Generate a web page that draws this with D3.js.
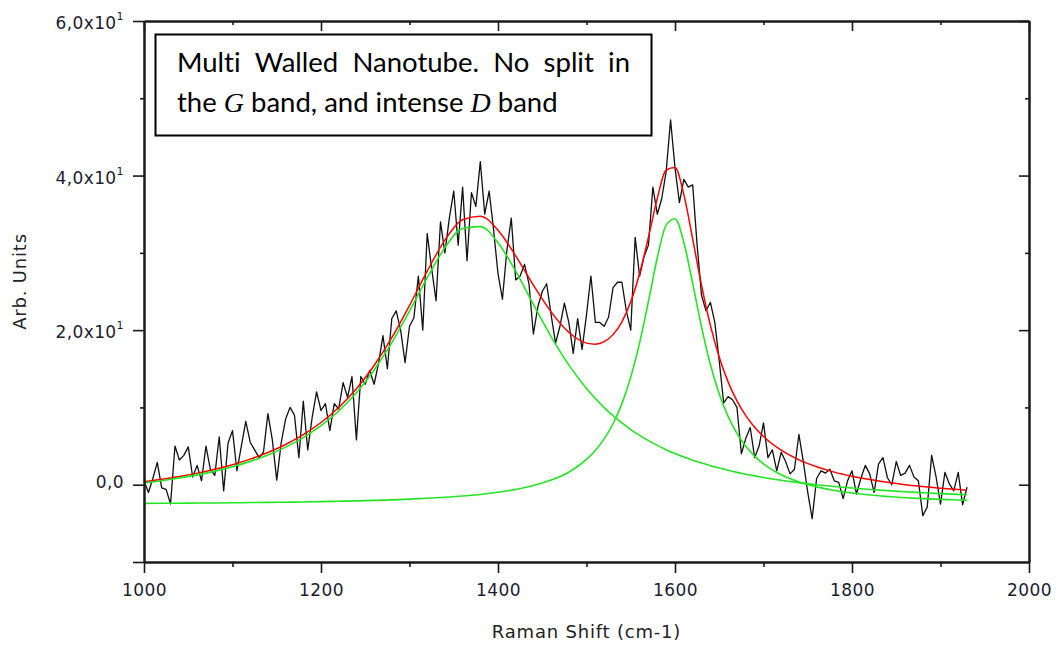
<!DOCTYPE html>
<html>
<head>
<meta charset="utf-8">
<script src="https://cdn.jsdelivr.net/npm/d3@7"></script>
<style>
  body { margin: 0; background: #fff; }
  svg { display: block; }
  .note text { font-variant-ligatures: none; }
</style>
</head>
<body>
<div id="chart"></div>
<script>
// measured spectrum, sampled every 5 cm-1 from 1000 to 1930
const specStart = 1000, specStep = 5;
const spectrum = [
  0.5, -1.0, 0.8, 2.9, -0.4, -0.6, -2.5, 5.0, 3.2, 3.8, 4.9, 1.0, 2.5, 0.5, 5.0, 2.0, 1.2, 6.2, -0.8, 5.4,
  7.0, 1.8, 5.0, 8.2, 5.5, 4.5, 3.5, 4.2, 9.2, 5.8, 0.6, 5.4, 8.5, 10.0, 9.0, 3.5, 10.8, 4.5, 8.7, 12.0,
  9.6, 10.5, 7.0, 10.5, 9.8, 13.2, 11.3, 14.0, 5.8, 14.0, 13.0, 14.8, 13.0, 15.7, 19.3, 15.0, 21.5, 22.5, 20.0, 15.8,
  20.5, 21.6, 27.0, 20.0, 32.5, 28.0, 23.8, 34.0, 30.0, 34.5, 38.0, 31.0, 38.5, 29.0, 37.8, 36.0, 41.8, 35.0, 38.0, 33.0,
  27.3, 24.0, 30.3, 34.5, 26.5, 27.0, 28.5, 26.0, 19.5, 23.0, 25.0, 26.0, 22.0, 18.3, 20.5, 23.5, 21.0, 17.0, 21.5, 17.5,
  22.0, 27.0, 21.0, 21.0, 20.5, 21.7, 25.5, 26.2, 26.2, 22.5, 20.0, 32.0, 27.0, 29.5, 31.0, 38.5, 35.0, 37.0, 40.5, 47.2,
  41.0, 36.5, 39.5, 38.5, 38.8, 31.0, 24.5, 22.5, 23.6, 21.0, 16.0, 10.6, 11.4, 11.0, 10.0, 4.0, 6.0, 7.4, 3.5, 5.0,
  8.0, 3.5, 4.5, 1.8, 4.2, 3.0, 1.4, 2.0, 6.5, 3.0, -1.0, -4.4, 0.8, 1.8, 1.5, 2.0, 0.5, 0.3, -1.8, 0.5,
  1.8, -1.2, 0.8, 2.5, 1.4, -1.0, 2.7, 3.5, 0.9, 0.0, 3.0, 1.2, 1.5, 2.5, 1.0, 0.5, -4.0, -2.9, 3.8, 1.0,
  -2.5, 1.6, 0.1, -0.8, 1.6, -2.6, -0.3
];

// fitted curves
const fitWave = [1000, 1020, 1040, 1060, 1080, 1100, 1120, 1140, 1160, 1180, 1200, 1220, 1240, 1260, 1280,
  1300, 1320, 1340, 1360, 1380, 1400, 1420, 1440, 1460, 1480, 1500,
  1510, 1520, 1530, 1540, 1550, 1560, 1570, 1580, 1590, 1600, 1610, 1620, 1630, 1640, 1650, 1660, 1670, 1680, 1690, 1700,
  1720, 1740, 1760, 1780, 1800, 1820, 1840, 1860, 1880, 1900, 1920, 1930];
const fitTotal = [0.39, 0.71, 1.07, 1.50, 2.00, 2.59, 3.31, 4.16, 5.20, 6.47, 8.05, 10.00, 12.42, 15.42, 19.02,
  23.19, 27.63, 31.65, 34.29, 34.74, 32.94, 29.61, 25.81, 22.36, 19.72, 18.32,
  18.18, 18.51, 19.42, 21.08, 23.66, 27.33, 32.02, 37.05, 40.72, 41.04, 37.53, 31.79, 25.80, 20.62, 16.50, 13.31, 10.85, 8.94, 7.44, 6.24,
  4.46, 3.22, 2.32, 1.63, 1.10, 0.66, 0.31, 0.01, -0.23, -0.45, -0.63, -0.71];
const fitD = [0.21, 0.51, 0.86, 1.27, 1.76, 2.33, 3.02, 3.85, 4.86, 6.10, 7.64, 9.54, 11.91, 14.85, 18.38,
  22.46, 26.79, 30.68, 33.16, 33.40, 31.32, 27.63, 23.32, 19.16, 15.50, 12.45,
  11.15, 9.98, 8.93, 7.99, 7.14, 6.38, 5.70, 5.09, 4.53, 4.03, 3.58, 3.17, 2.80, 2.46, 2.15, 1.86, 1.60, 1.36, 1.14, 0.94,
  0.58, 0.27, 0.00, -0.23, -0.43, -0.61, -0.77, -0.91, -1.03, -1.15, -1.25, -1.29];
const fitG = [-2.42, -2.40, -2.39, -2.37, -2.36, -2.34, -2.31, -2.29, -2.26, -2.23, -2.19, -2.14, -2.09, -2.03, -1.96,
  -1.87, -1.76, -1.63, -1.47, -1.26, -0.98, -0.62, -0.11, 0.60, 1.62, 3.27,
  4.43, 5.93, 7.89, 10.49, 13.92, 18.35, 23.72, 29.36, 33.59, 34.41, 31.35, 26.02, 20.40, 15.56, 11.75, 8.85, 6.65, 4.98, 3.70, 2.70,
  1.28, 0.35, -0.28, -0.74, -1.07, -1.33, -1.52, -1.68, -1.80, -1.90, -1.98, -2.02];

const xMajor = [1000, 1200, 1400, 1600, 1800, 2000];
const xMinor = [1100, 1300, 1500, 1700, 1900];
const yMajor = [-10, 0, 20, 40, 60];
const yMinor = [10, 30, 50];
const yLabels = [0, 20, 40, 60];

const margin = {top: 21, right: 27, bottom: 84, left: 144},
    width = 1056 - margin.left - margin.right,
    height = 646 - margin.top - margin.bottom;

const root = d3.select("#chart")
  .append("svg")
    .attr("width", 1056)
    .attr("height", 646);

const svg = root.append("g")
    .attr("transform", `translate(${margin.left}, ${margin.top})`);

const x = d3.scaleLinear().domain([1000, 2000]).range([0, width]);
const y = d3.scaleLinear().domain([-10, 60]).range([height, 0]);

svg.append("clipPath").attr("id", "plotclip")
  .append("rect").attr("width", width).attr("height", height);

// curves
const plot = svg.append("g").attr("clip-path", "url(#plotclip)");

const specData = spectrum.map((v, i) => ({w: specStart + i * specStep, v: v}));
const lineFn = d3.line().x(d => x(d.w)).y(d => y(d.v));
const smoothFn = d3.line().x(d => x(d.w)).y(d => y(d.v)).curve(d3.curveMonotoneX);

plot.append("path")
  .datum(specData)
  .attr("fill", "none")
  .attr("stroke", "#111")
  .attr("stroke-width", 1.3)
  .attr("stroke-linejoin", "round")
  .attr("d", lineFn);

plot.append("path")
  .datum(fitWave.map((w, i) => ({w: w, v: fitTotal[i]})))
  .attr("fill", "none")
  .attr("stroke", "#ff0000")
  .attr("stroke-width", 1.5)
  .attr("d", smoothFn);

[fitD, fitG].forEach(arr => {
  plot.append("path")
    .datum(fitWave.map((w, i) => ({w: w, v: arr[i]})))
    .attr("fill", "none")
    .attr("stroke", "#22e622")
    .attr("stroke-width", 1.6)
    .attr("d", smoothFn);
});

// axes
function styleAxis(g) {
  g.select(".domain").attr("stroke", "#1a1a1a").attr("stroke-width", 2);
  g.selectAll(".tick line").attr("stroke", "#1a1a1a").attr("stroke-width", 1.6);
}

svg.append("g")
  .attr("transform", `translate(0, ${height})`)
  .call(d3.axisBottom(x).tickValues(xMajor).tickSize(11).tickSizeOuter(0).tickPadding(11).tickFormat(d3.format("d")))
  .call(styleAxis)
  .call(g => g.selectAll("text")
    .attr("fill", "#1c1c30")
    .style("font-family", "'DejaVu Sans', Verdana, sans-serif")
    .style("font-size", "17px")
    .style("letter-spacing", "0.4px"));
svg.append("g")
  .attr("transform", `translate(0, ${height})`)
  .call(d3.axisBottom(x).tickValues(xMinor).tickSize(5).tickSizeOuter(0).tickFormat(""))
  .call(styleAxis);

svg.append("g")
  .call(d3.axisBottom(x).tickValues(xMajor).tickSize(10).tickSizeOuter(0).tickFormat(""))
  .call(styleAxis);
svg.append("g")
  .call(d3.axisBottom(x).tickValues(xMinor).tickSize(4).tickSizeOuter(0).tickFormat(""))
  .call(styleAxis);

svg.append("g")
  .call(d3.axisLeft(y).tickValues(yMajor).tickSize(11).tickSizeOuter(0).tickFormat(""))
  .call(styleAxis);
svg.append("g")
  .call(d3.axisLeft(y).tickValues(yMinor).tickSize(4).tickSizeOuter(0).tickFormat(""))
  .call(styleAxis);

svg.append("g")
  .attr("transform", `translate(${width}, 0)`)
  .call(d3.axisLeft(y).tickValues(yMajor.filter(d => d > -10)).tickSize(10).tickSizeOuter(0).tickFormat(""))
  .call(styleAxis);
svg.append("g")
  .attr("transform", `translate(${width}, 0)`)
  .call(d3.axisLeft(y).tickValues(yMinor).tickSize(4).tickSizeOuter(0).tickFormat(""))
  .call(styleAxis);

// y tick labels, 6,0x10^1 style
yLabels.forEach(v => {
  const t = svg.append("text")
    .attr("x", -20)
    .attr("y", y(v) + (v === 0 ? 3 : 8))
    .attr("text-anchor", "end")
    .attr("fill", "#1c1c30")
    .style("font-family", "'DejaVu Sans', Verdana, sans-serif")
    .style("font-size", "17px")
    .style("letter-spacing", "0.4px");
  if (v === 0) {
    t.text("0,0");
  } else {
    t.append("tspan").text(`${v / 10},0x10`);
    t.append("tspan").attr("dy", -9).style("font-size", "11px").text("1");
  }
});

// axis titles
root.append("text")
  .attr("x", margin.left + width / 2)
  .attr("y", 638)
  .attr("text-anchor", "middle")
  .attr("fill", "#222")
  .style("font-family", "'DejaVu Sans', Verdana, sans-serif")
  .style("font-size", "18px")
  .style("letter-spacing", "0.8px")
  .text("Raman Shift (cm-1)");

root.append("text")
  .attr("transform", `translate(26, ${margin.top + height / 2 - 10}) rotate(-90)`)
  .attr("text-anchor", "middle")
  .attr("fill", "#222")
  .style("font-family", "'DejaVu Sans', Verdana, sans-serif")
  .style("font-size", "18px")
  .style("letter-spacing", "0.8px")
  .text("Arb. Units");

// annotation box
const note = root.append("g").attr("class", "note");
note.append("rect")
  .attr("x", 155.5).attr("y", 34.5)
  .attr("width", 496).attr("height", 101)
  .attr("fill", "#fff")
  .attr("stroke", "#000")
  .attr("stroke-width", 2);

const textFont = "Lato, 'Open Sans', sans-serif";
const mathFont = "'Liberation Serif', 'DejaVu Serif', serif";
const line1 = ["Multi", "Walled", "Nanotube.", "No", "split", "in"];
const left = 177, right = 630;
const words = line1.map(wd => note.append("text")
  .attr("y", 72)
  .attr("fill", "#000")
  .style("font-family", textFont)
  .style("font-size", "27.5px")
  .text(wd));
const lens = words.map(t => t.node().getComputedTextLength());
const gap = (right - left - d3.sum(lens)) / (line1.length - 1);
let cx = left;
words.forEach((t, i) => { t.attr("x", cx); cx += lens[i] + gap; });

const l2 = note.append("text")
  .attr("x", left).attr("y", 112)
  .attr("fill", "#000")
  .style("font-family", textFont)
  .style("font-size", "27.5px");
l2.append("tspan").text("the ");
l2.append("tspan").style("font-family", mathFont).style("font-style", "italic").style("font-size", "28px").text("G");
l2.append("tspan").text(" band, and intense ");
l2.append("tspan").style("font-family", mathFont).style("font-style", "italic").style("font-size", "28px").text("D");
l2.append("tspan").text(" band");
</script>
</body>
</html>
